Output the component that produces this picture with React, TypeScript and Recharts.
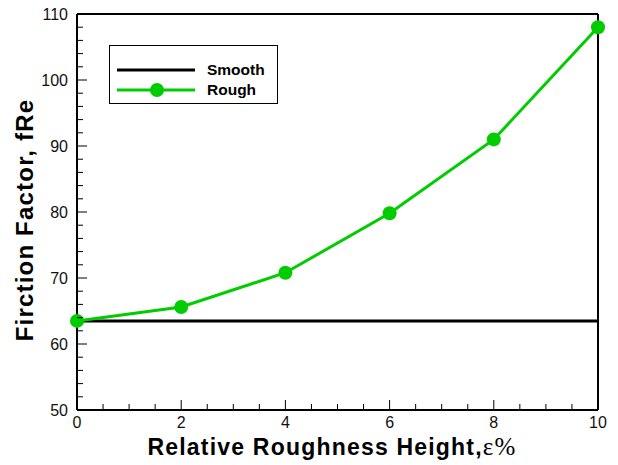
import React from 'react';
import { LineChart, Line, XAxis, YAxis, ReferenceLine, Label } from 'recharts';

const roughness = [0, 2, 4, 6, 8, 10];
const roughValues = [63.5, 65.6, 70.8, 79.8, 91.0, 108.0];
const smoothValues = [63.5, 63.5, 63.5, 63.5, 63.5, 63.5];

const xMajorTicks = [0, 2, 4, 6, 8, 10];
const xAllTicks = [0, 0.5, 1, 1.5, 2, 2.5, 3, 3.5, 4, 4.5, 5, 5.5, 6, 6.5, 7, 7.5, 8, 8.5, 9, 9.5, 10];
const yMajorTicks = [50, 60, 70, 80, 90, 100, 110];
const yAllTicks = [50, 52, 54, 56, 58, 60, 62, 64, 66, 68, 70, 72, 74, 76, 78, 80, 82, 84, 86, 88, 90, 92, 94, 96, 98, 100, 102, 104, 106, 108, 110];

const GREEN = '#00cc00';
const FONT = 'Arial, "Liberation Sans", Helvetica, sans-serif';

const data = roughness.map((x, i) => ({ x, rough: roughValues[i], smooth: smoothValues[i] }));

const XTick = (props: any) => {
  const { x, y, payload } = props;
  const major = xMajorTicks.includes(payload.value);
  const top = y - 8;
  return (
    <g>
      <line x1={x} x2={x} y1={top} y2={top - (major ? 10 : 6)} stroke="#000" strokeWidth={1} />
      {major && (
        <text x={x} y={top + 18} textAnchor="middle" fontSize={16} fontFamily={FONT} fill="#111">
          {payload.value}
        </text>
      )}
    </g>
  );
};

const YTick = (props: any) => {
  const { x, y, payload } = props;
  const major = yMajorTicks.includes(payload.value);
  const axisX = x + 8;
  return (
    <g>
      <line x1={axisX} x2={axisX + (major ? 10 : 6)} y1={y} y2={y} stroke="#000" strokeWidth={1} />
      {major && (
        <text x={axisX - 9} y={y + 6} textAnchor="end" fontSize={16} fontFamily={FONT} fill="#111">
          {payload.value}
        </text>
      )}
    </g>
  );
};

const LegendBox = () => (
  <svg width={170} height={60} style={{ display: 'block' }}>
    <rect x={0.5} y={0.5} width={168} height={58} fill="#fff" stroke="#000" strokeWidth={1} />
    <line x1={8} x2={86} y1={25} y2={25} stroke="#000" strokeWidth={3} />
    <text x={98} y={30} fontSize={15.5} fontWeight="bold" fontFamily={FONT} fill="#000">Smooth</text>
    <line x1={8} x2={86} y1={45} y2={45} stroke={GREEN} strokeWidth={3} />
    <circle cx={48} cy={45} r={7} fill={GREEN} />
    <text x={98} y={50} fontSize={15.5} fontWeight="bold" fontFamily={FONT} fill="#000">Rough</text>
  </svg>
);

export default function App() {
  return (
    <div style={{ position: 'absolute', left: 0, top: 0, width: 618, height: 465, background: '#fff' }}>
      <LineChart width={618} height={465} data={data} margin={{ top: 14, right: 20, bottom: 25, left: 17 }}>
        <XAxis
          dataKey="x"
          type="number"
          domain={[0, 10]}
          ticks={xAllTicks}
          interval={0}
          tick={<XTick />}
          tickLine={false}
          axisLine={{ stroke: '#000', strokeWidth: 2 }}
          height={30}
        >
          <Label
            content={() => (
              <text x={332} y={455} textAnchor="middle" fontSize={23} fontWeight="bold" letterSpacing={1.2} fontFamily={FONT} fill="#000">
                Relative Roughness Height,
                <tspan fontFamily='"Liberation Serif", "Times New Roman", serif' fontWeight="normal" fontSize={25}>ε%</tspan>
              </text>
            )}
          />
        </XAxis>
        <YAxis
          type="number"
          domain={[50, 110]}
          ticks={yAllTicks}
          interval={0}
          tick={<YTick />}
          tickLine={false}
          axisLine={{ stroke: '#000', strokeWidth: 2 }}
          width={60}
        >
          <Label
            content={() => (
              <text
                x={33}
                y={220}
                transform="rotate(-90 33 220)"
                textAnchor="middle"
                fontSize={24}
                fontWeight="bold"
                letterSpacing={1.2}
                fontFamily={FONT}
                fill="#000"
              >
                Firction Factor, fRe
              </text>
            )}
          />
        </YAxis>
        <ReferenceLine y={110} stroke="#000" strokeWidth={2} />
        <ReferenceLine x={10} stroke="#000" strokeWidth={2} />
        <Line
          dataKey="smooth"
          name="Smooth"
          stroke="#000"
          strokeWidth={3}
          dot={false}
          isAnimationActive={false}
        />
        <Line
          dataKey="rough"
          name="Rough"
          stroke={GREEN}
          strokeWidth={3}
          dot={{ r: 7, fill: GREEN, stroke: GREEN, strokeWidth: 0 }}
          isAnimationActive={false}
        />
      </LineChart>
      <div style={{ position: 'absolute', left: 109, top: 45 }}>
        <LegendBox />
      </div>
    </div>
  );
}
